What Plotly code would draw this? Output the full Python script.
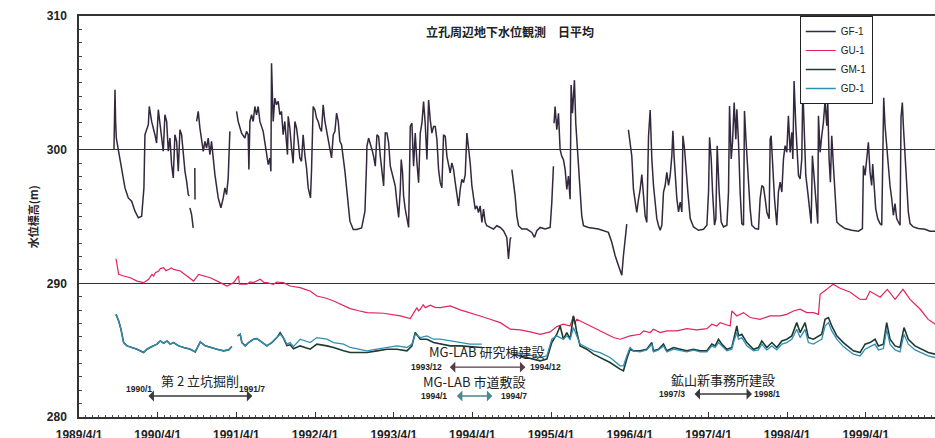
import plotly.graph_objects as go
from datetime import datetime

# ---------------- data (decimal year, water level m) ----------------
gf1_points = [
    (1989.690, 300.00), (1989.703, 304.48), (1989.711, 302.11), (1989.720, 300.87), (1989.745, 300.00),
    (1989.788, 298.38), (1989.830, 297.14), (1989.872, 296.39), (1989.915, 296.14), (1989.957, 295.40),
    (1990.000, 294.90), (1990.042, 295.02), (1990.071, 297.14), (1990.084, 301.12), (1990.127, 301.87),
    (1990.139, 303.23), (1990.169, 302.11), (1990.211, 301.12), (1990.232, 300.50), (1990.254, 302.99),
    (1990.275, 301.87), (1990.296, 300.87), (1990.317, 299.88), (1990.338, 302.61), (1990.360, 302.11),
    (1990.381, 299.88), (1990.402, 300.87), (1990.423, 298.88), (1990.444, 297.89), (1990.465, 301.12),
    (1990.487, 300.62), (1990.508, 298.38), (1990.529, 301.49), (1990.550, 301.12), (1990.571, 299.63),
    (1990.593, 298.38), (1990.614, 297.64), (1990.635, 296.64), (1990.648, 296.52), (1990.652, None),
    (1990.656, 295.65), (1990.677, 295.15), (1990.698, 294.15), (1990.709, None),
    (1990.718, 298.63), (1990.721, 296.27), (1990.730, None),
    (1990.741, 302.11), (1990.762, 302.86), (1990.783, 301.62), (1990.804, 300.87), (1990.826, 299.88),
    (1990.847, 300.62), (1990.868, 300.12), (1990.889, 300.87), (1990.910, 299.63), (1990.931, 300.62),
    (1990.953, 299.13), (1990.974, 298.13), (1991.016, 296.39), (1991.050, 295.65), (1991.080, 296.39),
    (1991.101, 297.14), (1991.122, 296.64), (1991.143, 297.89), (1991.164, 301.37), (1991.200, None),
    (1991.249, 302.86), (1991.270, 302.11), (1991.313, 301.24), (1991.355, 300.87), (1991.376, 301.37),
    (1991.397, 301.12), (1991.406, 298.51), (1991.419, 302.11), (1991.440, 302.61), (1991.461, 302.11),
    (1991.482, 303.23), (1991.503, 302.61), (1991.524, 303.23), (1991.546, 302.11), (1991.588, 301.37),
    (1991.630, 299.88), (1991.652, 298.88), (1991.673, 299.38), (1991.686, 298.38), (1991.694, 306.47),
    (1991.715, 302.11), (1991.736, 303.86), (1991.757, 303.36), (1991.779, 303.61), (1991.800, 302.61),
    (1991.821, 302.86), (1991.842, 301.12), (1991.863, 302.11), (1991.885, 300.62), (1991.897, 299.63),
    (1991.906, 302.49), (1991.927, 301.62), (1991.948, 300.12), (1991.969, 298.98), (1991.991, 302.11),
    (1992.012, 301.62), (1992.033, 300.62), (1992.054, 299.38), (1992.075, 299.13), (1992.096, 301.12),
    (1992.117, 299.63), (1992.139, 298.63), (1992.160, 297.14), (1992.189, 296.39), (1992.202, 298.38),
    (1992.223, 303.23), (1992.245, 302.99), (1992.266, 302.36), (1992.287, 302.11), (1992.308, 301.62),
    (1992.329, 301.37), (1992.350, 303.36), (1992.372, 302.11), (1992.393, 301.37), (1992.414, 300.87),
    (1992.435, 300.12), (1992.456, 299.38), (1992.478, 301.12), (1992.499, 301.37), (1992.520, 302.74),
    (1992.541, 302.11), (1992.562, 300.62), (1992.583, 300.37), (1992.626, 298.38), (1992.668, 296.14),
    (1992.689, 294.65), (1992.732, 294.03), (1992.774, 294.03), (1992.838, 294.15), (1992.880, 295.40),
    (1992.901, 299.13), (1992.905, 300.25), (1992.926, 300.87), (1992.948, 300.50), (1992.969, 300.00),
    (1992.990, 299.50), (1993.011, 298.76), (1993.032, 301.11), (1993.053, 300.99), (1993.075, 299.50),
    (1993.096, 298.51), (1993.117, 297.28), (1993.138, 301.24), (1993.159, 301.24), (1993.181, 300.50),
    (1993.202, 298.76), (1993.223, 298.27), (1993.244, 297.77), (1993.265, 297.28), (1993.286, 296.04),
    (1993.308, 294.93), (1993.329, 297.03), (1993.341, 299.26), (1993.358, 298.27), (1993.371, 296.53),
    (1993.392, 295.55), (1993.414, 294.68), (1993.435, 294.18), (1993.456, 301.73), (1993.477, 301.98),
    (1993.498, 298.76), (1993.519, 301.24), (1993.541, 299.01), (1993.562, 297.53), (1993.583, 301.24),
    (1993.604, 301.98), (1993.625, 303.59), (1993.646, 301.98), (1993.668, 299.26), (1993.689, 303.71),
    (1993.710, 302.23), (1993.731, 301.24), (1993.752, 301.73), (1993.774, 301.73), (1993.795, 300.74),
    (1993.816, 298.51), (1993.837, 297.53), (1993.858, 297.15), (1993.879, 301.11), (1993.901, 300.99),
    (1993.922, 299.50), (1993.943, 298.76), (1993.964, 298.27), (1993.985, 299.01), (1994.007, 298.51),
    (1994.028, 297.53), (1994.070, 295.79), (1994.091, 297.03), (1994.112, 297.77), (1994.134, 297.53),
    (1994.155, 298.14), (1994.176, 301.24), (1994.197, 300.25), (1994.218, 299.01), (1994.240, 297.28),
    (1994.261, 296.29), (1994.282, 295.55), (1994.303, 295.79), (1994.324, 295.30), (1994.345, 295.79),
    (1994.367, 294.56), (1994.388, 295.55), (1994.409, 294.56), (1994.430, 294.31), (1994.473, 294.18),
    (1994.515, 294.06), (1994.557, 294.31), (1994.600, 294.18), (1994.642, 293.94), (1994.684, 293.44),
    (1994.705, 291.83), (1994.727, 293.32), (1994.740, 293.44), (1994.744, None),
    (1994.748, 298.51), (1994.769, 297.53), (1994.790, 296.53), (1994.811, 295.05), (1994.833, 294.31),
    (1994.875, 294.06), (1994.938, 294.06), (1995.002, 293.81), (1995.036, 293.44), (1995.066, 293.94),
    (1995.108, 294.18), (1995.171, 294.06), (1995.235, 294.18), (1995.256, 296.04), (1995.277, 298.76),
    (1995.281, None),
    (1995.285, 301.98), (1995.298, 303.22), (1995.320, 301.49), (1995.341, 302.72), (1995.362, 300.00),
    (1995.383, 299.50), (1995.404, 299.26), (1995.426, 298.51), (1995.447, 297.03), (1995.468, 298.02),
    (1995.489, 296.29), (1995.502, 304.83), (1995.519, 302.72), (1995.532, 304.21), (1995.544, 305.20),
    (1995.561, 301.98), (1995.595, 298.51), (1995.637, 295.05), (1995.659, 294.31), (1995.722, 294.18),
    (1995.849, 294.06), (1995.976, 293.81), (1996.019, 293.07), (1996.061, 292.08), (1996.103, 291.34),
    (1996.146, 290.60), (1996.167, 292.08), (1996.209, 294.43), (1996.220, None),
    (1996.230, 301.49), (1996.252, 300.50), (1996.273, 299.50), (1996.294, 297.03), (1996.315, 296.04),
    (1996.336, 295.30), (1996.358, 296.29), (1996.379, 297.03), (1996.400, 298.14), (1996.421, 296.53),
    (1996.442, 295.05), (1996.463, 294.56), (1996.485, 300.99), (1996.506, 302.97), (1996.527, 299.31),
    (1996.548, 297.32), (1996.569, 295.83), (1996.590, 294.84), (1996.611, 294.35), (1996.633, 293.97),
    (1996.654, 294.35), (1996.675, 296.83), (1996.696, 297.32), (1996.717, 298.31), (1996.739, 297.32),
    (1996.760, 298.07), (1996.781, 299.55), (1996.794, 301.41), (1996.811, 299.31), (1996.823, 298.31),
    (1996.844, 296.33), (1996.866, 295.34), (1996.887, 296.08), (1996.908, 295.34), (1996.921, 301.04),
    (1996.942, 300.05), (1996.959, 298.56), (1996.984, 296.83), (1997.014, 294.84), (1997.056, 294.22),
    (1997.120, 293.97), (1997.183, 294.05), (1997.226, 294.35), (1997.247, 296.83), (1997.260, 300.92),
    (1997.281, 299.31), (1997.298, 296.83), (1997.323, 294.35), (1997.340, 294.84), (1997.357, 300.30),
    (1997.382, 296.83), (1997.408, 294.59), (1997.437, 294.22), (1997.480, 294.35), (1997.501, 296.83),
    (1997.514, 303.27), (1997.535, 299.31), (1997.552, 300.55), (1997.573, 303.52), (1997.594, 300.79),
    (1997.607, 303.03), (1997.628, 300.55), (1997.649, 296.83), (1997.670, 294.47), (1997.692, 294.35),
    (1997.704, 302.90), (1997.725, 300.55), (1997.747, 298.07), (1997.776, 295.59), (1997.797, 294.35),
    (1997.840, 294.10), (1997.882, 294.05), (1997.903, 296.33), (1997.925, 297.32), (1997.946, 297.20),
    (1997.967, 296.33), (1997.988, 295.34), (1998.018, 294.84), (1998.031, 300.79), (1998.043, 301.04),
    (1998.060, 299.31), (1998.086, 296.33), (1998.115, 294.35), (1998.136, 296.83), (1998.158, 297.57),
    (1998.179, 296.83), (1998.200, 299.31), (1998.221, 300.30), (1998.242, 299.80), (1998.263, 302.53),
    (1998.285, 299.80), (1998.306, 301.29), (1998.319, 299.31), (1998.335, 305.13), (1998.357, 301.79),
    (1998.374, 300.30), (1998.391, 298.07), (1998.412, 297.82), (1998.433, 299.31), (1998.446, 304.64),
    (1998.467, 300.55), (1998.484, 298.07), (1998.509, 296.83), (1998.539, 294.84), (1998.552, 294.47),
    (1998.568, 299.55), (1998.590, 298.07), (1998.611, 296.08), (1998.636, 294.47), (1998.645, 302.53),
    (1998.666, 299.80), (1998.687, 301.04), (1998.708, 302.03), (1998.729, 303.65), (1998.751, 301.79),
    (1998.763, 303.65), (1998.780, 299.31), (1998.797, 297.57), (1998.814, 301.04), (1998.835, 298.81),
    (1998.857, 296.33), (1998.878, 294.59), (1998.920, 294.35), (1998.984, 294.10), (1999.068, 293.97),
    (1999.153, 293.90), (1999.204, 294.10), (1999.217, 298.81), (1999.238, 298.07), (1999.259, 299.31),
    (1999.280, 300.55), (1999.301, 298.31), (1999.322, 297.32), (1999.335, 298.93), (1999.356, 297.32),
    (1999.373, 295.59), (1999.399, 294.84), (1999.428, 294.47), (1999.450, 294.35), (1999.462, 300.05),
    (1999.475, 303.89), (1999.492, 301.79), (1999.513, 300.05), (1999.534, 298.56), (1999.555, 297.32),
    (1999.577, 296.33), (1999.598, 295.09), (1999.619, 295.96), (1999.640, 294.84), (1999.661, 294.59),
    (1999.683, 294.35), (1999.695, 302.41), (1999.712, 303.52), (1999.725, 301.79), (1999.746, 299.80),
    (1999.767, 297.32), (1999.788, 295.34), (1999.810, 294.47), (1999.852, 294.22), (1999.916, 294.10),
    (2000.000, 294.05), (2000.064, 293.90), (2000.127, 293.90),
]

gu1_points = [
    (1989.716, 291.84), (1989.729, 291.29), (1989.750, 290.67), (1989.813, 290.55), (1989.898, 290.42),
    (1989.983, 290.17), (1990.067, 290.05), (1990.131, 290.30), (1990.173, 290.67), (1990.195, 290.55),
    (1990.216, 290.80), (1990.258, 290.92), (1990.280, 291.10), (1990.322, 291.17), (1990.350, 290.95),
    (1990.385, 291.04), (1990.420, 291.15), (1990.449, 291.04), (1990.533, 290.92), (1990.618, 290.55),
    (1990.703, 290.17), (1990.766, 290.67), (1990.830, 290.55), (1990.915, 290.42), (1991.042, 290.05),
    (1991.127, 289.80), (1991.211, 290.05), (1991.275, 290.55), (1991.285, 289.93), (1991.381, 289.93),
    (1991.420, 290.10), (1991.465, 290.05), (1991.550, 290.30), (1991.600, 290.05), (1991.635, 290.05),
    (1991.719, 289.93), (1991.760, 290.10), (1991.847, 290.05), (1991.931, 289.80), (1992.000, 289.75),
    (1992.058, 289.68), (1992.120, 289.55), (1992.185, 289.43), (1992.270, 289.05), (1992.380, 288.90),
    (1992.482, 288.68), (1992.609, 288.31), (1992.693, 288.11), (1992.800, 287.95), (1992.905, 287.81),
    (1993.117, 287.76), (1993.250, 287.65), (1993.329, 287.56), (1993.456, 287.36), (1993.498, 287.81),
    (1993.541, 288.18), (1993.560, 287.95), (1993.583, 288.06), (1993.620, 288.40), (1993.647, 288.18),
    (1993.710, 288.36), (1993.770, 288.20), (1993.837, 288.18), (1993.964, 288.31), (1994.091, 288.01),
    (1994.218, 287.81), (1994.345, 287.56), (1994.472, 287.31), (1994.600, 287.06), (1994.727, 286.57),
    (1994.854, 286.52), (1994.981, 286.37), (1995.108, 286.19), (1995.235, 286.37), (1995.320, 286.76),
    (1995.404, 286.94), (1995.489, 286.81), (1995.531, 287.56), (1995.545, 286.95), (1995.574, 287.31),
    (1995.659, 287.06), (1995.786, 286.69), (1995.913, 286.32), (1996.040, 285.95), (1996.124, 285.82),
    (1996.251, 286.07), (1996.378, 286.19), (1996.421, 286.44), (1996.505, 286.32), (1996.548, 286.56),
    (1996.632, 286.32), (1996.717, 286.44), (1996.844, 286.44), (1996.971, 286.61), (1997.098, 286.52),
    (1997.226, 286.61), (1997.289, 286.94), (1997.353, 286.81), (1997.395, 287.06), (1997.522, 286.81),
    (1997.543, 287.93), (1997.607, 287.56), (1997.691, 287.81), (1997.776, 287.44), (1997.903, 287.31),
    (1998.030, 287.56), (1998.157, 287.56), (1998.242, 287.68), (1998.327, 287.93), (1998.412, 288.06),
    (1998.496, 287.81), (1998.581, 287.81), (1998.645, 287.68), (1998.666, 289.18), (1998.750, 289.55),
    (1998.830, 289.93), (1998.920, 289.63), (1999.050, 289.33), (1999.170, 288.81), (1999.250, 288.80),
    (1999.300, 289.40), (1999.430, 288.96), (1999.520, 289.55), (1999.620, 288.80), (1999.720, 289.55),
    (1999.810, 288.80), (1999.940, 288.06), (2000.040, 287.30), (2000.130, 286.94),
]

gm1_points = [
    (1989.716, 287.68), (1989.750, 287.19), (1989.779, 286.56), (1989.813, 285.57), (1989.856, 285.32),
    (1989.919, 285.20), (1989.983, 285.07), (1990.067, 284.82), (1990.110, 285.07), (1990.173, 285.27),
    (1990.237, 285.45), (1990.279, 285.69), (1990.322, 285.52), (1990.364, 285.69), (1990.406, 285.45),
    (1990.449, 285.57), (1990.512, 285.32), (1990.576, 285.20), (1990.660, 285.07), (1990.724, 284.87),
    (1990.788, 285.62), (1990.851, 285.32), (1990.915, 285.20), (1991.000, 285.07), (1991.084, 284.95),
    (1991.148, 285.02), (1991.190, 285.27), (1991.230, None),
    (1991.262, 286.07), (1991.296, 286.19), (1991.317, 285.57), (1991.360, 285.32), (1991.402, 285.57),
    (1991.465, 285.82), (1991.508, 285.87), (1991.550, 285.69), (1991.592, 285.45), (1991.635, 285.32),
    (1991.698, 285.57), (1991.762, 285.94), (1991.804, 286.30), (1991.847, 285.90), (1991.889, 285.35),
    (1991.931, 285.40), (1991.974, 285.10), (1992.058, 285.32), (1992.185, 285.07), (1992.270, 285.45),
    (1992.397, 285.32), (1992.482, 285.20), (1992.609, 284.95), (1992.693, 284.82), (1992.820, 284.82),
    (1992.905, 284.82), (1993.032, 284.95), (1993.159, 285.07), (1993.286, 285.07), (1993.414, 284.95),
    (1993.477, 285.32), (1993.519, 286.32), (1993.583, 285.82), (1993.668, 285.82), (1993.752, 285.57),
    (1993.837, 285.45), (1993.964, 285.32), (1994.091, 285.32), (1994.218, 285.27), (1994.367, 285.20),
    (1994.500, None),
    (1994.769, 284.70), (1994.938, 284.45), (1995.108, 284.20), (1995.193, 284.33), (1995.256, 285.57),
    (1995.320, 286.19), (1995.362, 286.81), (1995.404, 285.82), (1995.447, 286.32), (1995.489, 285.82),
    (1995.510, 286.56), (1995.531, 287.56), (1995.553, 287.06), (1995.574, 286.32), (1995.616, 285.32),
    (1995.701, 285.07), (1995.786, 284.70), (1995.870, 284.45), (1995.997, 284.08), (1996.124, 283.58),
    (1996.167, 283.46), (1996.209, 284.33), (1996.251, 285.07), (1996.294, 284.95), (1996.378, 284.95),
    (1996.463, 285.07), (1996.527, 285.57), (1996.548, 284.95), (1996.611, 285.07), (1996.675, 285.45),
    (1996.717, 284.95), (1996.802, 285.20), (1996.887, 285.07), (1996.971, 284.95), (1997.056, 285.07),
    (1997.141, 284.95), (1997.226, 284.95), (1997.289, 285.45), (1997.331, 285.32), (1997.374, 285.82),
    (1997.416, 285.45), (1997.480, 285.07), (1997.543, 285.20), (1997.564, 285.82), (1997.607, 286.81),
    (1997.628, 286.07), (1997.670, 286.19), (1997.734, 285.57), (1997.819, 285.07), (1997.882, 285.20),
    (1997.924, 285.69), (1997.988, 285.20), (1998.052, 285.57), (1998.115, 285.20), (1998.179, 285.69),
    (1998.242, 285.82), (1998.306, 286.07), (1998.369, 287.06), (1998.412, 286.32), (1998.475, 287.06),
    (1998.517, 285.94), (1998.581, 285.82), (1998.645, 286.07), (1998.687, 286.19), (1998.729, 287.31),
    (1998.772, 287.44), (1998.814, 286.81), (1998.878, 286.07), (1998.962, 285.57), (1999.089, 284.95),
    (1999.174, 284.82), (1999.238, 285.45), (1999.301, 285.57), (1999.365, 285.82), (1999.407, 285.32),
    (1999.471, 285.45), (1999.513, 287.06), (1999.555, 285.82), (1999.619, 285.32), (1999.682, 285.20),
    (1999.733, 286.69), (1999.788, 285.82), (1999.873, 285.32), (1999.958, 285.07), (2000.042, 284.82),
    (2000.127, 284.70),
]

gd1_points = [
    (1989.716, 287.68), (1989.750, 287.19), (1989.779, 286.56), (1989.813, 285.57), (1989.856, 285.32),
    (1989.919, 285.20), (1989.983, 285.07), (1990.067, 284.82), (1990.110, 285.07), (1990.173, 285.27),
    (1990.237, 285.45), (1990.279, 285.69), (1990.322, 285.52), (1990.364, 285.69), (1990.406, 285.45),
    (1990.449, 285.57), (1990.512, 285.32), (1990.576, 285.20), (1990.660, 285.07), (1990.724, 284.87),
    (1990.788, 285.62), (1990.851, 285.32), (1990.915, 285.20), (1991.000, 285.07), (1991.084, 284.95),
    (1991.148, 285.02), (1991.190, 285.27), (1991.230, None),
    (1991.262, 286.07), (1991.296, 286.19), (1991.317, 285.57), (1991.360, 285.32), (1991.402, 285.57),
    (1991.465, 285.82), (1991.508, 285.87), (1991.550, 285.69), (1991.592, 285.45), (1991.635, 285.32),
    (1991.698, 285.57), (1991.762, 285.94), (1991.804, 286.19), (1991.847, 285.94), (1991.889, 285.45),
    (1991.931, 285.57), (1991.974, 285.27), (1992.058, 285.82), (1992.185, 285.57), (1992.270, 285.94),
    (1992.397, 285.82), (1992.482, 285.57), (1992.609, 285.45), (1992.693, 285.20), (1992.820, 285.07),
    (1992.905, 284.95), (1993.032, 285.07), (1993.159, 285.20), (1993.286, 285.32), (1993.414, 285.20),
    (1993.477, 285.45), (1993.519, 286.19), (1993.583, 285.94), (1993.668, 286.07), (1993.752, 285.82),
    (1993.837, 285.82), (1993.964, 285.69), (1994.091, 285.57), (1994.218, 285.45), (1994.367, 285.45),
    (1994.500, None),
    (1994.769, 284.82), (1994.938, 284.70), (1995.108, 284.45), (1995.193, 284.57), (1995.256, 285.82),
    (1995.320, 286.07), (1995.362, 285.94), (1995.404, 285.82), (1995.447, 286.07), (1995.489, 285.82),
    (1995.531, 286.69), (1995.574, 286.07), (1995.616, 285.45), (1995.701, 285.20), (1995.786, 284.95),
    (1995.870, 284.82), (1995.997, 284.45), (1996.124, 283.83), (1996.167, 283.83), (1996.209, 284.57),
    (1996.251, 285.20), (1996.294, 284.95), (1996.378, 284.87), (1996.463, 285.02), (1996.527, 285.45),
    (1996.548, 284.87), (1996.611, 285.02), (1996.675, 285.32), (1996.717, 284.87), (1996.802, 285.07),
    (1996.887, 284.95), (1996.971, 284.87), (1997.056, 285.00), (1997.141, 284.87), (1997.226, 284.87),
    (1997.289, 285.32), (1997.331, 285.20), (1997.374, 285.57), (1997.416, 285.32), (1997.480, 284.95),
    (1997.543, 285.07), (1997.564, 285.57), (1997.607, 286.32), (1997.628, 285.82), (1997.670, 285.94),
    (1997.734, 285.32), (1997.819, 284.95), (1997.882, 285.02), (1997.924, 285.45), (1997.988, 285.02),
    (1998.052, 285.32), (1998.115, 285.02), (1998.179, 285.45), (1998.242, 285.57), (1998.306, 285.82),
    (1998.369, 286.56), (1998.412, 285.94), (1998.475, 286.56), (1998.517, 285.57), (1998.581, 285.45),
    (1998.645, 285.69), (1998.687, 285.82), (1998.729, 286.81), (1998.772, 287.06), (1998.814, 286.44),
    (1998.878, 285.82), (1998.962, 285.27), (1999.089, 284.70), (1999.174, 284.57), (1999.238, 285.07),
    (1999.301, 285.27), (1999.365, 285.45), (1999.407, 285.02), (1999.471, 285.12), (1999.513, 286.56),
    (1999.555, 285.45), (1999.619, 285.02), (1999.682, 284.87), (1999.733, 286.19), (1999.788, 285.45),
    (1999.873, 285.02), (1999.958, 284.77), (2000.042, 284.57), (2000.127, 284.45),
]

series_names = ["GF-1", "GU-1", "GM-1", "GD-1"]
series_colors = ["#33283d", "#e3245a", "#1f3a30", "#2f8fb5"]

x_tick_labels = ["1989/4/1", "1990/4/1", "1991/4/1", "1992/4/1", "1993/4/1", "1994/4/1",
                 "1995/4/1", "1996/4/1", "1997/4/1", "1998/4/1", "1999/4/1"]
y_tick_values = [280, 290, 300, 310]

# events: name, start/end labels, start/end (decimal year)
event_names = ["第 2 立坑掘削", "MG-LAB 研究棟建設", "MG-LAB 市道敷設", "鉱山新事務所建設"]
event_start_labels = ["1990/1", "1993/12", "1994/1", "1997/3"]
event_end_labels = ["1991/7", "1994/12", "1994/7", "1998/1"]
event_start_year = [1990.11, 1993.94, 1994.03, 1997.05]
event_end_year = [1991.45, 1994.92, 1994.50, 1997.80]

title_text = "立孔周辺地下水位観測　日平均"
y_title_text = "水位標高(m)"


def yr(y):
    year = int(y)
    start = datetime(year, 1, 1)
    end = datetime(year + 1, 1, 1)
    return start + (end - start) * (y - year)


def split(points):
    return [yr(t) for t, v in points], [v for t, v in points]


fig = go.Figure()
widths = [1.5, 1.2, 1.6, 1.3]
for name, pts, col, w in zip(series_names, [gf1_points, gu1_points, gm1_points, gd1_points],
                             series_colors, widths):
    xs, ys = split(pts)
    fig.add_trace(go.Scatter(x=xs, y=ys, mode="lines", name=name,
                             line=dict(color=col, width=w), connectgaps=False))

LAT = "Liberation Sans, Arial, sans-serif"
CJK = "Noto Sans CJK JP, sans-serif"

tickvals = []
for lbl in x_tick_labels:
    y_, m_, d_ = [int(p) for p in lbl.split("/")]
    tickvals.append(datetime(y_, m_, d_))

annotations = [
    dict(text=title_text, xref="paper", yref="paper", x=0.5035, y=0.962, showarrow=False,
         xanchor="center", yanchor="middle",
         font=dict(family=CJK, size=12, color="#222", weight="bold")),
    dict(text=y_title_text, xref="paper", yref="paper", x=-0.054, y=0.5, showarrow=False,
         xanchor="center", yanchor="middle",
         textangle=-90, font=dict(family=CJK, size=11, color="#222", weight="bold")),
]

# placement of event annotations
ev_text_y = [282.72, 284.88, 282.62, 282.80]
ev_arrow_y = [281.57, 283.73, 281.57, 281.72]
ev_lbl_y = [282.09, 283.73, 281.57, 281.72]
ev_lbl_dx = [(-0.10, 0.0), (-0.28, 0.25), (-0.27, 0.28), (-0.27, 0.19)]
ev_colors = ["#3a3a3a", "#5a3a45", "#4a8790", "#3a3a3a"]
for i, name in enumerate(event_names):
    s, e = event_start_year[i], event_end_year[i]
    mid = (s + e) / 2
    annotations.append(dict(text=name, x=yr(mid), y=ev_text_y[i], xref="x", yref="y",
                            xanchor="center", yanchor="middle",
                            showarrow=False, font=dict(family=CJK, size=13, color="#222")))
    annotations.append(dict(text="", x=yr(e), y=ev_arrow_y[i], ax=yr(s), ay=ev_arrow_y[i],
                            xref="x", yref="y", axref="x", ayref="y", showarrow=True,
                            arrowhead=1, startarrowhead=1, arrowside="end+start",
                            arrowsize=1.4, startarrowsize=1.4, arrowwidth=1.3,
                            arrowcolor=ev_colors[i]))
    annotations.append(dict(text=event_start_labels[i], x=yr(s + ev_lbl_dx[i][0]), y=ev_lbl_y[i],
                            xref="x", yref="y", showarrow=False, xanchor="center", yanchor="middle",
                            font=dict(family=LAT, size=8.5, color="#222", weight="bold")))
    annotations.append(dict(text=event_end_labels[i], x=yr(e + ev_lbl_dx[i][1]), y=ev_lbl_y[i],
                            xref="x", yref="y", showarrow=False, xanchor="center", yanchor="middle",
                            font=dict(family=LAT, size=8.5, color="#222", weight="bold")))

fig.update_layout(
    width=935, height=438,
    margin=dict(l=79, r=0, t=16, b=21, autoexpand=False),
    paper_bgcolor="white", plot_bgcolor="white",
    showlegend=True,
    legend=dict(x=0.842, y=1.0, xanchor="left", yanchor="top", bgcolor="white",
                bordercolor="#222", borderwidth=1, tracegroupgap=0, itemwidth=30,
                font=dict(family=LAT, size=10, color="#222")),
    annotations=annotations,
    xaxis=dict(type="date", range=[datetime(1989, 3, 31, 12), yr(2000.127)], automargin=False,
               tickvals=tickvals, ticktext=x_tick_labels,
               ticks="inside", ticklen=5, tickcolor="#333", tickwidth=1,
               showline=True, linecolor="#333", linewidth=1.5, mirror=True,
               showgrid=False, zeroline=False, ticklabelstandoff=6,
               tickfont=dict(family=LAT, size=12, color="#222", weight="bold"),
               minor=dict(dtick="M1", tick0="1989-04-01", ticks="inside", ticklen=2,
                          tickcolor="#555", showgrid=False)),
    yaxis=dict(range=[280, 310], tickvals=y_tick_values, automargin=False,
               ticks="inside", ticklen=5, tickcolor="#333",
               showline=True, linecolor="#333", linewidth=1.5, mirror=False,
               showgrid=True, gridcolor="#333", gridwidth=1, zeroline=False,
               ticklabelstandoff=8,
               tickfont=dict(family=LAT, size=12, color="#222", weight="bold"),
               minor=dict(dtick=1, ticks="inside", ticklen=3, tickcolor="#444", showgrid=False)),
)

fig.write_html("out.html", config={"displayModeBar": False},
               post_script="document.body.style.margin='0';document.body.style.overflow='hidden';")
